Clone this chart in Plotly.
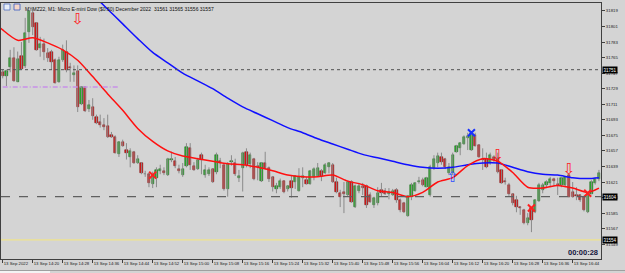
import plotly.graph_objects as go

# ---------------- data ----------------
bar_index = list(range(160))  # 1-minute bars starting 13 Sep 2022 14:12

opens = [31748, 31744, 31754, 31765, 31737, 31767, 31755, 31795, 31817, 31805,
         31776, 31781, 31770, 31772, 31762, 31737, 31762, 31772, 31754, 31745,
         31750, 31711, 31731, 31706, 31708, 31696, 31690, 31687, 31686, 31675,
         31673, 31654, 31667, 31658, 31650, 31656, 31643, 31643, 31630, 31630,
         31619, 31626, 31634, 31634, 31629, 31647, 31645, 31636, 31629, 31640,
         31660, 31640, 31636, 31652, 31629, 31630, 31636, 31633, 31645, 31641,
         31613, 31644, 31643, 31626, 31637, 31656, 31642, 31648, 31640, 31622,
         31643, 31637, 31627, 31613, 31615, 31622, 31613, 31622, 31621, 31611,
         31626, 31623, 31619, 31627, 31628, 31634, 31631, 31638, 31641, 31621,
         31608, 31610, 31606, 31621, 31592, 31611, 31616, 31616, 31606, 31594,
         31597, 31612, 31611, 31607, 31606, 31612, 31600, 31597, 31582, 31604,
         31611, 31621, 31623, 31615, 31606, 31637, 31643, 31650, 31648, 31631,
         31631, 31656, 31660, 31665, 31672, 31658, 31675, 31664, 31648, 31648,
         31643, 31650, 31649, 31635, 31622, 31618, 31607, 31600, 31592, 31589,
         31574, 31591, 31586, 31599, 31612, 31618, 31620, 31624, 31619, 31618,
         31617, 31629, 31610, 31606, 31606, 31604, 31586, 31607, 31620, 31624]

highs = [31751, 31751, 31774, 31777, 31772, 31783, 31811, 31820, 31822, 31806,
         31789, 31787, 31776, 31774, 31764, 31766, 31780, 31785, 31759, 31756,
         31756, 31732, 31732, 31716, 31718, 31699, 31699, 31695, 31699, 31679,
         31675, 31668, 31670, 31666, 31660, 31657, 31652, 31644, 31634, 31632,
         31633, 31638, 31641, 31638, 31649, 31656, 31650, 31641, 31643, 31666,
         31666, 31644, 31649, 31655, 31641, 31638, 31637, 31655, 31649, 31643,
         31644, 31652, 31648, 31635, 31656, 31660, 31655, 31649, 31644, 31644,
         31656, 31639, 31628, 31620, 31625, 31623, 31617, 31628, 31629, 31637,
         31638, 31627, 31635, 31638, 31643, 31636, 31643, 31644, 31643, 31626,
         31612, 31621, 31623, 31623, 31618, 31620, 31620, 31618, 31609, 31604,
         31615, 31620, 31614, 31614, 31613, 31614, 31602, 31598, 31606, 31620,
         31621, 31627, 31626, 31627, 31641, 31652, 31655, 31655, 31649, 31643,
         31655, 31664, 31667, 31675, 31678, 31680, 31678, 31665, 31660, 31655,
         31655, 31652, 31655, 31636, 31626, 31620, 31608, 31605, 31593, 31590,
         31585, 31592, 31601, 31620, 31620, 31623, 31627, 31626, 31626, 31627,
         31628, 31630, 31621, 31615, 31607, 31605, 31609, 31623, 31626, 31635]

lows = [31741, 31732, 31748, 31737, 31737, 31751, 31753, 31782, 31791, 31773,
        31766, 31762, 31760, 31751, 31735, 31736, 31760, 31748, 31737, 31737,
        31702, 31710, 31702, 31702, 31693, 31688, 31684, 31681, 31672, 31672,
        31654, 31650, 31662, 31647, 31638, 31642, 31642, 31630, 31627, 31615,
        31614, 31615, 31630, 31629, 31628, 31644, 31637, 31631, 31627, 31638,
        31635, 31634, 31635, 31630, 31626, 31628, 31620, 31630, 31637, 31611,
        31604, 31640, 31628, 31621, 31610, 31638, 31637, 31623, 31623, 31621,
        31635, 31621, 31610, 31608, 31613, 31608, 31610, 31603, 31613, 31610,
        31615, 31618, 31618, 31623, 31627, 31622, 31630, 31631, 31620, 31608,
        31592, 31585, 31604, 31597, 31591, 31608, 31606, 31591, 31597, 31591,
        31594, 31604, 31606, 31601, 31605, 31597, 31586, 31585, 31581, 31600,
        31610, 31619, 31616, 31615, 31604, 31635, 31638, 31641, 31636, 31629,
        31629, 31655, 31652, 31664, 31658, 31657, 31662, 31649, 31635, 31637,
        31641, 31644, 31631, 31619, 31618, 31605, 31594, 31586, 31583, 31572,
        31571, 31563, 31585, 31598, 31608, 31614, 31615, 31616, 31606, 31615,
        31615, 31603, 31603, 31600, 31598, 31587, 31585, 31607, 31618, 31622]

closes = [31744, 31750, 31765, 31738, 31763, 31752, 31794, 31819, 31800, 31774,
          31781, 31772, 31765, 31760, 31736, 31762, 31774, 31751, 31753, 31747,
          31708, 31731, 31703, 31710, 31697, 31689, 31687, 31685, 31673, 31673,
          31655, 31667, 31663, 31655, 31657, 31643, 31648, 31631, 31630, 31620,
          31629, 31635, 31636, 31632, 31648, 31648, 31640, 31634, 31636, 31662,
          31641, 31635, 31647, 31647, 31635, 31635, 31621, 31652, 31643, 31613,
          31642, 31645, 31630, 31628, 31655, 31641, 31652, 31625, 31638, 31643,
          31637, 31625, 31615, 31616, 31622, 31609, 31616, 31614, 31628, 31627,
          31628, 31619, 31634, 31636, 31637, 31628, 31641, 31643, 31621, 31609,
          31604, 31607, 31621, 31598, 31616, 31616, 31614, 31594, 31598, 31602,
          31608, 31608, 31607, 31609, 31611, 31600, 31589, 31586, 31605, 31618,
          31620, 31622, 31618, 31626, 31638, 31648, 31651, 31644, 31638, 31638,
          31652, 31663, 31666, 31673, 31674, 31678, 31663, 31650, 31647, 31638,
          31652, 31647, 31633, 31620, 31621, 31607, 31597, 31592, 31591, 31574,
          31579, 31577, 31600, 31618, 31618, 31621, 31625, 31622, 31618, 31626,
          31627, 31604, 31604, 31605, 31600, 31589, 31608, 31621, 31625, 31632]

fast_ma_bars = [-0.5, 0, 4, 8, 12, 16, 20, 24, 28, 32, 36, 40, 44, 48, 52, 56, 60, 64, 68, 72,
                76, 80, 84, 88, 92, 96, 100, 104, 108, 112, 116, 120, 124, 128, 132,
                136, 140, 144, 148, 152, 156, 159]
fast_ma = [31799, 31797, 31785, 31788, 31782, 31774, 31762, 31743, 31723, 31704, 31683,
           31668, 31657, 31651, 31648, 31645, 31642, 31641, 31638, 31634, 31629,
           31627, 31627, 31629, 31622, 31618, 31611, 31609, 31604, 31609, 31621,
           31626, 31640, 31648, 31645, 31632, 31615, 31614, 31617, 31614, 31609, 31614]

slow_ma_bars = [24, 28, 32, 36, 40, 44, 48, 52, 56, 60, 64, 68, 72, 76, 80, 84, 88, 92,
                96, 100, 104, 108, 112, 116, 120, 124, 128, 132, 136, 140, 144, 148,
                152, 156, 159]
slow_ma = [31838, 31821, 31804, 31787, 31771, 31759, 31747, 31738, 31729, 31718,
           31708, 31700, 31692, 31684, 31678, 31671, 31665, 31659, 31653, 31649,
           31645, 31641, 31638, 31637, 31638, 31641, 31643, 31643, 31638, 31633,
           31630, 31629, 31626, 31625, 31626]

sell_arrow_bars = [13.5, 20, 132, 151]
sell_arrow_prices = [31835, 31808, 31651, 31635]
buy_arrow_bars = [120]
buy_arrow_prices = [31625]
red_cross_bars = [40, 141, 156]
red_cross_prices = [31629, 31591, 31608]
blue_cross_bars = [125]
blue_cross_prices = [31678]

dotted_level = 31751
dashed_level = 31604
bid_level = 31554
purple_level = 31731
purple_end_bar = 31

y_ticks = list(range(31549, 31820, 18))
x_tick_bars = list(range(0, 160, 8))
x_tick_labels = ["13 Sep 2022", "13 Sep 14:20", "13 Sep 14:28", "13 Sep 14:36",
                 "13 Sep 14:44", "13 Sep 14:52", "13 Sep 15:00", "13 Sep 15:08",
                 "13 Sep 15:16", "13 Sep 15:24", "13 Sep 15:32", "13 Sep 15:40",
                 "13 Sep 15:48", "13 Sep 15:56", "13 Sep 16:04", "13 Sep 16:12",
                 "13 Sep 16:20", "13 Sep 16:28", "13 Sep 16:36", "13 Sep 16:44"]

title_text = "MYMZ22, M1: Micro E-mini Dow ($0.50) December 2022  31561 31565 31556 31557"
timer_text = "00:00:28"

# ---------------- figure ----------------
BG = "#d4d4d4"
FONT = "Liberation Sans"
fig = go.Figure()

# wicks
wx, wy = [], []
for i, h, l in zip(bar_index, highs, lows):
    wx += [i, i, None]
    wy += [l, h, None]
fig.add_trace(go.Scatter(x=wx, y=wy, mode="lines",
                         line=dict(color="#8a8a8a", width=1), hoverinfo="skip"))

# bodies
body_fill, body_line = [], []
for o, c in zip(opens, closes):
    if c > o:
        body_fill.append("#28b028"); body_line.append("#0c5a0c")
    elif c < o:
        body_fill.append("#e31212"); body_line.append("#6a0000")
    else:
        body_fill.append("#888888"); body_line.append("#666666")
fig.add_trace(go.Bar(x=bar_index, y=[c - o for o, c in zip(opens, closes)], base=opens,
                     width=0.62, marker=dict(color=body_fill,
                                             line=dict(color=body_line, width=0.5))))

# moving averages
fig.add_trace(go.Scatter(x=slow_ma_bars, y=slow_ma, mode="lines",
                         line=dict(color="#1010ff", width=1.5, shape="spline", smoothing=0.7)))
fig.add_trace(go.Scatter(x=fast_ma_bars, y=fast_ma, mode="lines",
                         line=dict(color="#ff1010", width=1.5, shape="spline", smoothing=0.7)))

# signals
fig.add_trace(go.Scatter(x=sell_arrow_bars, y=sell_arrow_prices, mode="text", text=["⇩"] * len(sell_arrow_bars),
                         textfont=dict(family="DejaVu Sans", size=15, color="#ff2020"),
                         textposition="middle center", cliponaxis=True))
fig.add_trace(go.Scatter(x=buy_arrow_bars, y=buy_arrow_prices, mode="text", text=["⇧"] * len(buy_arrow_bars),
                         textfont=dict(family="DejaVu Sans", size=15, color="#3050ff"),
                         textposition="middle center", cliponaxis=True))
fig.add_trace(go.Scatter(x=red_cross_bars, y=red_cross_prices, mode="markers",
                         marker=dict(symbol="x-thin", size=7, color="#ff2020",
                                     line=dict(color="#ff2020", width=2))))
fig.add_trace(go.Scatter(x=blue_cross_bars, y=blue_cross_prices, mode="markers",
                         marker=dict(symbol="x-thin", size=7, color="#1830ff",
                                     line=dict(color="#1830ff", width=2))))

# horizontal levels
fig.add_shape(type="line", xref="paper", x0=0, x1=1, y0=dotted_level, y1=dotted_level,
              line=dict(color="#505050", width=1, dash="dot"))
fig.add_shape(type="line", xref="paper", x0=0, x1=1, y0=dashed_level, y1=dashed_level,
              line=dict(color="#606060", width=1.2, dash="dash"))
fig.add_shape(type="line", xref="paper", x0=0, x1=1, y0=bid_level, y1=bid_level,
              line=dict(color="#efe38c", width=1.2))
fig.add_shape(type="line", x0=0, x1=purple_end_bar, y0=purple_level, y1=purple_level,
              line=dict(color="#c890e8", width=1.5, dash="5px,2px,1px,2px"))

# price boxes on the axis
for lvl in [dotted_level, dashed_level, bid_level]:
    fig.add_annotation(xref="paper", x=1, xanchor="left", xshift=1, y=lvl, yref="y",
                       text=str(lvl), showarrow=False, bgcolor="#000000",
                       font=dict(family=FONT, size=4.5, color="#ffffff"), borderpad=0.5)

# title + timer
def px_x(p):
    return (p - 1) / 600.0

def px_y(p):
    return (259 - p) / 256.0

fig.add_annotation(xref="paper", yref="paper", x=px_x(23), y=px_y(3.5), xanchor="left", yanchor="top",
                   text=title_text, showarrow=False, font=dict(family=FONT, size=5, color="#101010"))
fig.add_annotation(xref="paper", yref="paper", x=1, y=0, xanchor="right", yanchor="bottom",
                   xshift=-1, yshift=0, text="<b>" + timer_text + "</b>", showarrow=False,
                   font=dict(family=FONT, size=7.5, color="#14143c"))

# little title icons
fig.add_shape(type="rect", xref="paper", yref="paper", x0=px_x(4), x1=px_x(10), y0=px_y(10), y1=px_y(4),
              fillcolor="#e8eef8", line=dict(color="#5070c0", width=0.8))
fig.add_shape(type="rect", xref="paper", yref="paper", x0=px_x(14), x1=px_x(20), y0=px_y(10), y1=px_y(4),
              fillcolor="#f6d6c8", line=dict(color="#3858c0", width=0.8))

# bottom tab strip
fig.add_shape(type="line", xref="paper", yref="paper", x0=-0.01, x1=1.05, y0=px_y(270.5), y1=px_y(270.5),
              line=dict(color="#a0a0a0", width=1))
fig.add_shape(type="rect", xref="paper", yref="paper", x0=-0.01, x1=px_x(50), y0=px_y(274), y1=px_y(271),
              fillcolor="#f4f4f4", line=dict(width=0))

fig.update_layout(
    width=625, height=273,
    margin=dict(l=1, r=24, t=3, b=14, pad=0, autoexpand=False),
    paper_bgcolor=BG, plot_bgcolor=BG,
    showlegend=False, bargap=0, barmode="overlay",
    xaxis=dict(range=[-0.45, 159.55], tickvals=x_tick_bars, ticktext=x_tick_labels,
               ticklabelposition="outside right", ticks="outside", ticklen=3, tickangle=0,
               tickcolor="#404040", showline=True, linecolor="#404040", linewidth=1,
               mirror=True, showgrid=False, zeroline=False, automargin=False,
               tickfont=dict(family=FONT, size=4.3, color="#202020")),
    yaxis=dict(range=[31531.9, 31828.2], side="right", tickvals=y_ticks, tickformat="d",
               ticks="outside", ticklen=3, tickcolor="#404040", showline=True,
               linecolor="#404040", linewidth=1, mirror=True, showgrid=False,
               zeroline=False, automargin=False,
               tickfont=dict(family=FONT, size=4.3, color="#202020")),
)

fig.write_html("out.html")
